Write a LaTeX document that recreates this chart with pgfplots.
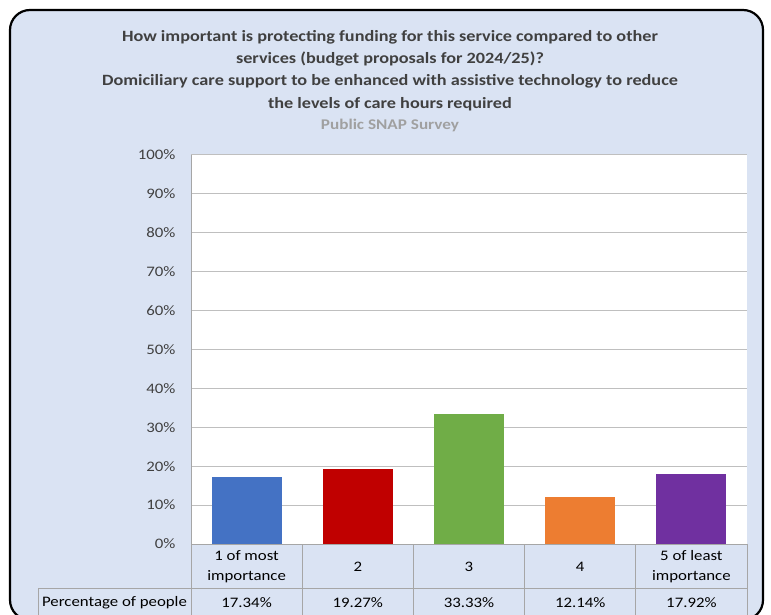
\documentclass[border=0pt]{standalone}
\usepackage{fontspec}
\setmainfont{Carlito}[FakeStretch=1.16]
\usepackage{pgfplots}
\pgfplotsset{compat=1.18}
\definecolor{panel}{HTML}{DAE3F3}
\definecolor{titlegray}{HTML}{404040}
\definecolor{subgray}{HTML}{A0A0A0}
\definecolor{gridgray}{HTML}{BFBFBF}
\definecolor{tablegray}{HTML}{A6A6A6}
\definecolor{c1}{HTML}{4472C4}
\definecolor{c2}{HTML}{C00000}
\definecolor{c3}{HTML}{70AD47}
\definecolor{c4}{HTML}{ED7D31}
\definecolor{c5}{HTML}{7030A0}
\begin{document}
\begin{tikzpicture}
\clip (0pt,0pt) rectangle (771pt,614pt);
\begin{scope}[x=1pt,y=1pt]
  \draw[line width=2.2pt, rounded corners=20pt, fill=panel] (10,-6) rectangle (763,604);
% titles
\node[align=center, text=titlegray, font=\bfseries\fontsize{15.7}{22.2}\selectfont]
  at (390,614-70.5) {How important is protecting funding for this service compared to other\\
  services (budget proposals for 2024/25)?\\
  Domiciliary care support to be enhanced with assistive technology to reduce\\
  the levels of care hours required};
\node[text=subgray, font=\bfseries\fontsize{14.8}{16}\selectfont] at (390,614-125.5) {Public SNAP Survey};
\end{scope}

\begin{axis}[
  at={(191pt,70pt)}, anchor=south west,
  width=556pt, height=389pt, scale only axis,
  xmin=-0.5, xmax=4.5, ymin=0, ymax=100,
  axis background/.style={fill=white},
  axis line style={draw=none},
  ytick={0,10,...,100},
  yticklabel={\pgfmathprintnumber{\tick}\%},
  /pgf/number format/assume math mode=true,
  ymajorgrids, major grid style={gridgray, line width=1pt},
  major tick length=0pt,
  xtick={0,1,2,3,4},
  xticklabels={{1 of most\\importance},2,3,4,{5 of least\\importance}},
  xticklabel style={anchor=center, yshift=-23pt, align=center,
    font=\fontsize{14.5}{20}\selectfont, text=black},
  yticklabel style={font=\fontsize{14.5}{16}\selectfont, text=titlegray, xshift=-12pt},
  ybar, bar width=70pt, bar shift=0pt,
  clip=false,
]
\addplot[fill=c1, draw=none] coordinates {(0,17.34)};
\addplot[fill=c2, draw=none] coordinates {(1,19.27)};
\addplot[fill=c3, draw=none] coordinates {(2,33.33)};
\addplot[fill=c4, draw=none] coordinates {(3,12.14)};
\addplot[fill=c5, draw=none] coordinates {(4,17.92)};
\end{axis}
% data table below the plot area
\begin{scope}[x=1pt,y=1pt,tablegray, line width=1pt]
  \draw (191,459) -- (191,-5);
  \draw (191,70) -- (747,70);
  \draw (38,26) -- (747,26);
  \draw (38,26) -- (38,-5);
  \draw (302.2,70) -- (302.2,-5);
  \draw (413.4,70) -- (413.4,-5);
  \draw (524.6,70) -- (524.6,-5);
  \draw (635.8,70) -- (635.8,-5);
  \draw (747,70) -- (747,-5);
\end{scope}
\begin{scope}[x=1pt,y=1pt,every node/.style={font=\fontsize{14.5}{16}\selectfont}]
\node at (114.5,11) {Percentage of people};
\node at (246.6,11) {17.34\%};
\node at (357.8,11) {19.27\%};
\node at (469,11) {33.33\%};
\node at (580.2,11) {12.14\%};
\node at (691.4,11) {17.92\%};
\end{scope}
\end{tikzpicture}
\end{document}
